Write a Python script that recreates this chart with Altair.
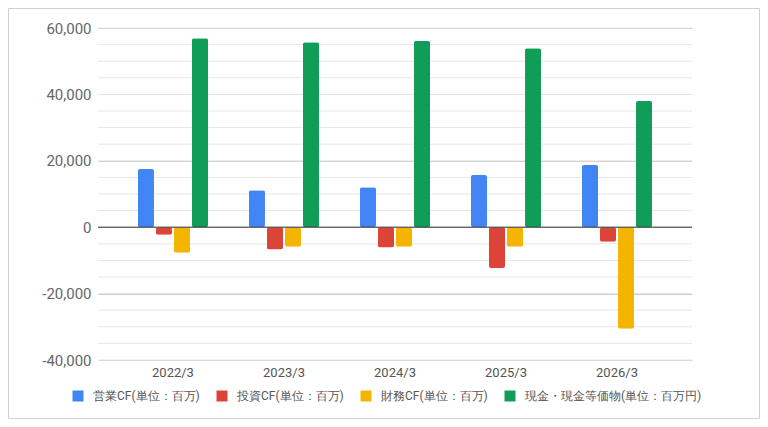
import altair as alt
import pandas as pd

years = ["2022/3", "2023/3", "2024/3", "2025/3", "2026/3"]
series = ["営業CF(単位：百万)", "投資CF(単位：百万)", "財務CF(単位：百万)", "現金・現金等価物(単位：百万円)"]
colors = ["#4285F4", "#DB4437", "#F4B400", "#0F9D58"]

eigyo = [17500, 11100, 12000, 15700, 18700]
toushi = [-2300, -6700, -6100, -12300, -4400]
zaimu = [-7700, -5900, -5900, -5900, -30600]
genkin = [56900, 55700, 56100, 53900, 38000]

major_ticks = [-40000, -20000, 0, 20000, 40000, 60000]

rows = []
for s, vals in zip(series, [eigyo, toushi, zaimu, genkin]):
    for y, v in zip(years, vals):
        rows.append({"年度": y, "系列": s, "値": v})
df = pd.DataFrame(rows)

yscale = alt.Scale(domain=[-40000, 60000], nice=False, zero=False)

yaxis = alt.Axis(
    title=None,
    values=major_ticks,
    ticks=False,
    domain=False,
    labelPadding=7,
    labelFont="Roboto",
    labelFontSize=15,
    labelColor="#666666",
    labelExpr="replace(format(datum.value, ','), '\u2212', '-')",
    gridColor="#cccccc",
    gridWidth=1,
)

minor = alt.Chart(alt.sequence(-40000, 60001, 5000, as_="値")).mark_rule(
    color="#e6e6e6", strokeWidth=1
).encode(y=alt.Y("値:Q", scale=yscale, axis=yaxis))

bars = alt.Chart(df).mark_bar(cornerRadius=2).encode(
    x=alt.X(
        "年度:N",
        sort=years,
        scale=alt.Scale(paddingInner=0.351, paddingOuter=0.351),
        axis=alt.Axis(title=None, labelAngle=0, ticks=False, domain=False, grid=False,
                      labelPadding=6, labelFont="Roboto", labelFontSize=13, labelColor="#555555"),
    ),
    xOffset=alt.XOffset("系列:N", sort=series, scale=alt.Scale(paddingInner=0.111, paddingOuter=0.056)),
    y=alt.Y("値:Q", scale=yscale, axis=yaxis),
    color=alt.Color(
        "系列:N",
        sort=series,
        scale=alt.Scale(domain=series, range=colors),
        legend=alt.Legend(
            title=None,
            orient="none",
            legendX=-26,
            legendY=362,
            direction="horizontal",
            columns=4,
            columnPadding=16,
            symbolType="square",
            symbolSize=121,
            symbolStrokeWidth=0,
            labelOffset=9,
            labelFont="Roboto",
            labelFontSize=12,
            labelColor="#555555",
            labelLimit=400,
            padding=0,
        ),
    ),
)

zero = alt.Chart(pd.DataFrame({"値": [0]})).mark_rule(color="#333333", strokeWidth=1).encode(
    y=alt.Y("値:Q")
)

frame = alt.Chart(pd.DataFrame({"a": [0]})).mark_rect(
    fillOpacity=0, stroke="#d0d0d0", strokeWidth=1
).encode(
    x=alt.value(-89.5), x2=alt.value(661.5), y=alt.value(-19.5), y2=alt.value(390.5)
)

chart = alt.layer(minor, bars, zero, frame).properties(
    width=594,
    height=332,
    autosize=alt.AutoSizeParams(type="none"),
    padding={"left": 90, "top": 20, "right": 68, "bottom": 59},
).configure_view(stroke=None)

chart.save("out.html", embed_options={"renderer": "svg", "actions": False})
